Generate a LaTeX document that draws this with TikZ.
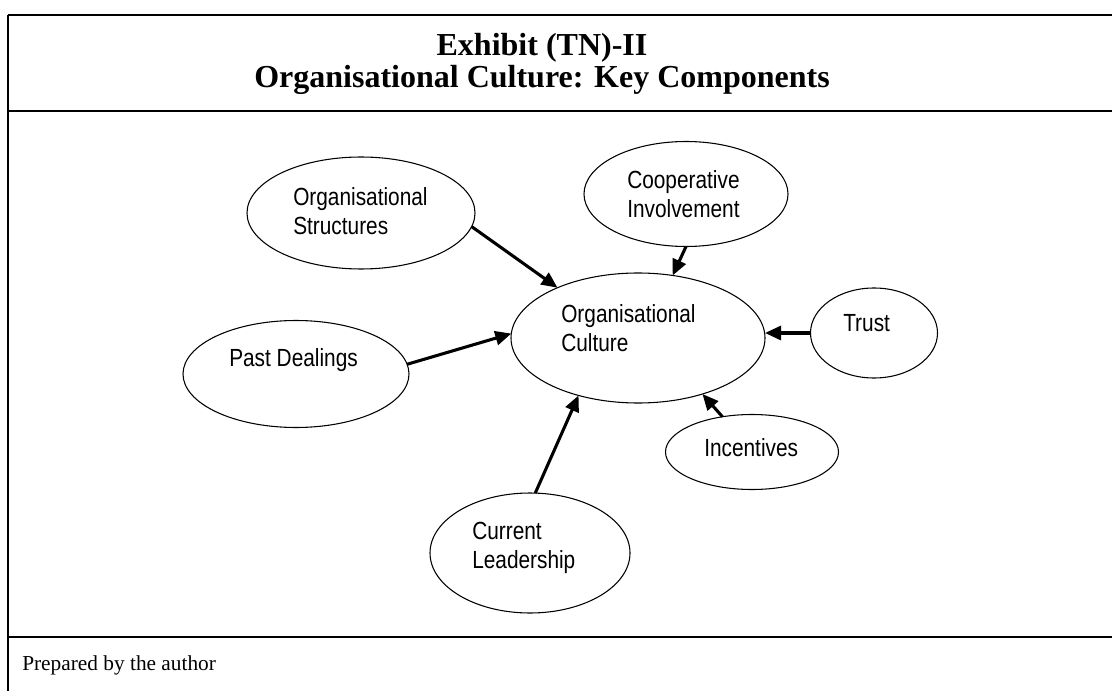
\documentclass[tikz,border=0pt]{standalone}
\usepackage{fontspec}
\setmainfont{Liberation Serif}
\newfontfamily\arialn[FakeStretch=0.84]{Liberation Sans}
\usepackage{tikz}
\usetikzlibrary{shapes.geometric}
\usetikzlibrary{arrows.meta}

\tikzset{
    bubble/.style={ellipse, draw, line width=0.8pt, inner sep=0pt, outer sep=0pt},
    words/.style={anchor=west, align=left, inner sep=0pt, font=\arialn\fontsize{18.6}{21.4}\selectfont},
    feed/.style={-{Triangle[length=12pt,width=10.5pt]}, line width=2.3pt},
    frame/.style={line width=2pt}
}

\begin{document}
\begin{tikzpicture}[x=0.75pt, y=-0.75pt]
        \useasboundingbox (0,0) rectangle (1112,691);
        \clip (0,0) rectangle (1112,691);

        % Frame
        \draw[frame] (8,15) -- (1130,15);
        \draw[frame] (8,15) -- (8,700);
        \draw[frame] (8,111) -- (1130,111);
        \draw[frame] (8,637) -- (1130,637);

        % Title
        \node[align=center, inner sep=0pt, font=\bfseries\fontsize{24}{23.5}\selectfont] (head) at (542,64)
            {Exhibit (TN)-II\\Organisational Culture: Key Components};

        % Ellipses
        \node[bubble, minimum width=171pt, minimum height=84pt] (structures) at (361,213) {};
        \node[bubble, minimum width=153pt, minimum height=78.75pt] (coop) at (686,194) {};
        \node[bubble, minimum width=190.5pt, minimum height=97.5pt] (culture) at (638,338) {};
        \node[bubble, minimum width=95.25pt, minimum height=67.5pt] (trust) at (874,333) {};
        \node[bubble, minimum width=169.5pt, minimum height=80.25pt] (past) at (296,374) {};
        \node[bubble, minimum width=129.75pt, minimum height=56.25pt] (incentives) at (752,452) {};
        \node[bubble, minimum width=150pt, minimum height=90pt] (leadership) at (530,553) {};

        % Labels
        \node[words] (structures-txt) at (293,211) {Organisational\\Structures};
        \node[words] (coop-txt) at (627,194) {Cooperative\\Involvement};
        \node[words] (culture-txt) at (561,328) {Organisational\\Culture};
        \node[words] (trust-txt) at (843,323) {Trust};
        \node[words] (past-txt) at (229,360) {Past Dealings};
        \node[words] (incentives-txt) at (704,448) {Incentives};
        \node[words] (leadership-txt) at (472,548) {Current\\Leadership};

        % Arrows
        \draw[feed] (structures.353) -- (culture.148);
        \draw[feed] (coop.south) -- (culture.61);
        \draw[feed] (trust.west) -- (culture.east |- trust.west);
        \draw[feed] (past.5) -- (culture.178);
        \draw[feed] (leadership.85) -- (culture.224);
        \draw[feed] (incentives.130) -- (culture.319);

        % Source
        \node[anchor=base west, inner sep=0pt, font=\fontsize{16}{19}\selectfont] (source) at (22,670) {Prepared by the author};
\end{tikzpicture}
\end{document}
